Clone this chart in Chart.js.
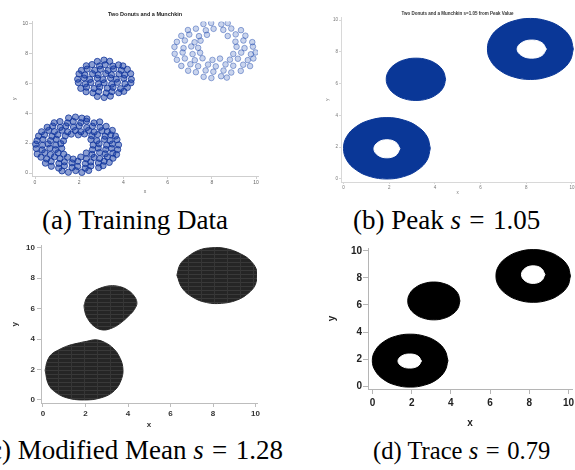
<!DOCTYPE html>
<html>
<head>
<meta charset="utf-8">
<script src="https://cdn.jsdelivr.net/npm/chart.js@4.4.1/dist/chart.umd.min.js"></script>
<style>
  html, body { margin: 0; padding: 0; background: #fff; width: 575px; height: 470px; overflow: hidden; position: relative; }
  canvas { position: absolute; display: block; }
  .cap { position: absolute; font-family: "Liberation Serif", "Times New Roman", serif; color: #000; white-space: nowrap; line-height: 1; }
  .cap .eq { margin: 0 0.06em; }
</style>
</head>
<body>
<canvas id="pa" width="257" height="194" style="left:7px;top:6px"></canvas>
<canvas id="pb" width="260" height="193" style="left:322px;top:7px"></canvas>
<canvas id="pc" width="255" height="195" style="left:7px;top:239px"></canvas>
<canvas id="pd" width="260" height="194" style="left:321px;top:240px"></canvas>

<div class="cap" style="left:42px;top:207px;font-size:27px">(a) Training Data</div>
<div class="cap" style="left:353px;top:207px;font-size:27px">(b) Peak <i>s</i><span class="eq"> = </span>1.05</div>
<div class="cap" style="left:-19px;top:437px;font-size:27px">(c) Modified Mean <i>s</i><span class="eq"> = </span>1.28</div>
<div class="cap" style="left:373px;top:439px;font-size:24.6px">(d) Trace <i>s</i><span class="eq"> = </span>0.79</div>

<script>
// ---- tick values shared by every axis ----
const axisTicks = [0, 2, 4, 6, 8, 10];

// ---- (a) training samples ----
const lowerDonutPts = [
  [1.22,0.14],[1.51,0.05],[1.84,0.16],[2.12,0.04],[2.43,0.17],
  [0.74,0.45],[1.07,0.33],[1.33,0.48],[1.68,0.37],[1.93,0.44],[2.27,0.32],[2.53,0.47],[2.88,0.36],[3.08,0.49],
  [0.47,0.66],[0.73,0.78],[1.08,0.64],[1.33,0.75],[1.67,0.68],[1.94,0.79],[2.28,0.63],[2.52,0.74],[2.87,0.67],[3.13,0.79],[3.36,0.71],
  [0.27,1.06],[0.53,0.94],[0.88,1.08],[1.13,0.96],[1.47,1.05],[1.73,0.93],[2.07,1.07],[2.33,0.95],[2.67,1.04],[2.93,0.97],[3.27,1.08],[3.53,0.99],
  [0.10,1.27],[0.44,1.36],[0.70,1.24],[1.04,1.35],[1.30,1.26],[2.32,1.34],[2.58,1.25],[2.92,1.37],[3.18,1.28],[3.52,1.33],[3.69,1.24],
  [0.06,1.64],[0.33,1.55],[0.67,1.66],[0.93,1.57],[1.21,1.65],[2.60,1.56],[2.86,1.67],[3.20,1.58],[3.46,1.65],[3.74,1.57],
  [0.03,1.93],[0.34,1.86],[0.60,1.95],[0.94,1.87],[1.17,1.96],[2.63,1.87],[2.90,1.95],[3.24,1.86],[3.50,1.94],[3.78,1.88],
  [0.09,2.16],[0.36,2.25],[0.70,2.17],[0.96,2.26],[1.29,2.15],[2.53,2.24],[2.80,2.16],[3.14,2.25],[3.40,2.17],[3.71,2.23],
  [0.16,2.47],[0.43,2.55],[0.77,2.46],[1.03,2.56],[1.37,2.48],[1.64,2.60],[1.96,2.55],[2.24,2.61],[2.57,2.49],[2.83,2.57],[3.17,2.46],[3.43,2.55],[3.64,2.47],
  [0.30,2.76],[0.62,2.85],[0.88,2.77],[1.22,2.86],[1.48,2.75],[1.82,2.84],[2.08,2.76],[2.42,2.85],[2.68,2.74],[3.02,2.83],[3.28,2.77],[3.50,2.85],
  [0.55,3.06],[0.80,3.14],[1.14,3.05],[1.40,3.15],[1.74,3.07],[2.00,3.16],[2.34,3.04],[2.60,3.13],[2.94,3.06],[3.22,3.12],
  [0.87,3.36],[1.13,3.44],[1.47,3.35],[1.73,3.45],[2.07,3.37],[2.33,3.46],[2.67,3.35],[2.93,3.42],
  [1.52,3.68],[1.83,3.74],[2.12,3.67],[2.35,3.62]
];
const munchkinPts = [
  [2.82,5.12],[3.13,5.05],[3.41,5.14],
  [2.31,5.43],[2.62,5.36],[2.88,5.45],[3.22,5.35],[3.48,5.44],[3.79,5.37],[4.02,5.46],
  [2.07,5.66],[2.33,5.74],[2.67,5.65],[2.93,5.75],[3.27,5.67],[3.53,5.73],[3.87,5.64],[4.18,5.72],
  [1.96,6.04],[2.27,5.95],[2.53,6.05],[2.87,5.96],[3.13,6.03],[3.47,5.94],[3.73,6.06],[4.07,5.97],[4.34,6.03],
  [1.93,6.27],[2.22,6.35],[2.48,6.26],[2.82,6.34],[3.08,6.25],[3.42,6.36],[3.68,6.28],[4.02,6.33],[4.36,6.26],
  [1.99,6.63],[2.26,6.55],[2.60,6.64],[2.86,6.56],[3.20,6.65],[3.46,6.57],[3.80,6.62],[4.06,6.55],[4.33,6.64],
  [2.10,6.86],[2.36,6.95],[2.70,6.87],[2.96,6.94],[3.30,6.85],[3.56,6.96],[3.90,6.87],[4.18,6.93],
  [2.32,7.17],[2.58,7.25],[2.92,7.16],[3.18,7.24],[3.52,7.15],[3.78,7.23],[3.98,7.16],
  [2.82,7.46],[3.12,7.55],[3.38,7.47]
];
const upperDonutPts = [
  [7.63,6.43],[7.98,6.35],[8.42,6.47],[8.68,6.38],
  [6.93,6.84],[7.28,6.74],[7.72,6.86],[8.07,6.77],[8.53,6.85],[8.88,6.72],[9.31,6.83],
  [6.62,7.16],[7.03,7.27],[7.38,7.14],[7.83,7.25],[8.18,7.13],[8.62,7.26],[8.97,7.17],[9.42,7.24],[9.73,7.15],
  [6.42,7.57],[6.78,7.66],[7.23,7.54],[7.58,7.67],[8.03,7.56],[8.37,7.65],[8.82,7.58],[9.18,7.64],[9.63,7.55],[9.88,7.66],
  [6.32,7.97],[6.68,8.06],[7.13,7.95],[7.47,8.04],[8.97,7.96],[9.33,8.05],[9.77,7.94],[9.98,8.06],
  [6.31,8.43],[6.72,8.35],[7.07,8.46],[7.38,8.37],[9.12,8.44],[9.48,8.35],[9.86,8.45],
  [6.42,8.77],[6.78,8.86],[7.22,8.74],[7.49,8.85],[9.07,8.78],[9.43,8.86],[9.83,8.75],
  [6.62,9.17],[6.98,9.26],[7.42,9.15],[7.78,9.24],[8.72,9.16],[9.08,9.27],[9.52,9.18],
  [6.92,9.56],[7.28,9.65],[7.73,9.54],[8.08,9.64],[8.52,9.57],[8.88,9.66],[9.32,9.55],
  [7.62,9.96],[7.97,10.03],[8.43,9.94],[8.72,10.02]
];

// ---- (b) peak-value regions: outlines of each region ----
const peakLowerOuter = [[3.80,1.93],[3.66,2.67],[3.24,3.30],[2.63,3.71],[1.90,3.86],[1.17,3.71],[0.56,3.30],[0.14,2.67],[0.00,1.93],[0.14,1.19],[0.56,0.56],[1.17,0.15],[1.90,0.00],[2.63,0.15],[3.24,0.56],[3.66,1.19],[3.80,1.93]];
const peakLowerHole  = [[2.47,1.90],[2.30,2.30],[1.90,2.47],[1.50,2.30],[1.33,1.90],[1.50,1.50],[1.90,1.33],[2.30,1.50],[2.47,1.90]];
const peakMunchkin   = [[4.47,6.27],[4.37,6.78],[4.09,7.21],[3.67,7.50],[3.17,7.60],[2.67,7.50],[2.25,7.21],[1.97,6.78],[1.87,6.27],[1.97,5.76],[2.25,5.33],[2.67,5.04],[3.17,4.94],[3.67,5.04],[4.09,5.33],[4.37,5.76],[4.47,6.27]];
const peakUpperOuter = [[10.06,8.18],[9.92,8.92],[9.51,9.54],[8.90,9.95],[8.18,10.10],[7.46,9.95],[6.85,9.54],[6.44,8.92],[6.30,8.18],[6.44,7.44],[6.85,6.82],[7.46,6.41],[8.18,6.26],[8.90,6.41],[9.51,6.82],[9.92,7.44],[10.06,8.18]];
const peakUpperHole  = [[8.88,8.17],[8.69,8.57],[8.24,8.74],[7.79,8.57],[7.60,8.17],[7.79,7.77],[8.24,7.60],[8.69,7.77],[8.88,8.17]];

// ---- (c) modified-mean regions ----
const meanLower    = [[0.10,1.95],[0.20,2.55],[0.40,3.00],[0.75,3.30],[1.15,3.55],[1.60,3.72],[2.05,3.85],[2.50,3.95],[2.95,3.75],[3.30,3.40],[3.55,2.95],[3.75,2.20],[3.70,1.40],[3.35,0.60],[2.75,0.15],[1.90,0.00],[1.10,0.15],[0.55,0.55],[0.25,1.05],[0.10,1.95]];
const meanMunchkin = [[1.93,6.20],[2.05,6.70],[2.30,7.06],[2.70,7.35],[3.15,7.50],[3.60,7.45],[3.95,7.25],[4.25,6.90],[4.42,6.40],[4.30,5.95],[4.05,5.55],[3.60,5.00],[3.20,4.70],[2.80,4.60],[2.40,4.85],[2.10,5.35],[1.97,5.80],[1.93,6.20]];
const meanUpper    = [[6.30,8.20],[6.45,8.90],[6.80,9.40],[7.35,9.85],[7.95,10.00],[8.60,9.95],[9.30,9.60],[9.80,9.10],[10.07,8.40],[10.00,7.60],[9.65,7.00],[9.10,6.55],[8.40,6.35],[7.70,6.40],[7.05,6.75],[6.55,7.35],[6.30,8.20]];

// ---- (d) trace regions ----
const traceLowerOuter = [[3.85,1.88],[3.70,2.63],[3.29,3.27],[2.66,3.69],[1.92,3.84],[1.18,3.69],[0.56,3.27],[0.14,2.63],[-0.01,1.88],[0.14,1.13],[0.56,0.49],[1.18,0.07],[1.92,-0.08],[2.66,0.07],[3.29,0.49],[3.70,1.13],[3.85,1.88]];
const traceLowerHole  = [[2.50,1.85],[2.32,2.22],[1.90,2.37],[1.48,2.22],[1.30,1.85],[1.48,1.48],[1.90,1.33],[2.32,1.48],[2.50,1.85]];
const traceMunchkin   = [[4.46,6.30],[4.36,6.84],[4.07,7.29],[3.64,7.59],[3.13,7.70],[2.62,7.59],[2.19,7.29],[1.90,6.84],[1.80,6.30],[1.90,5.76],[2.19,5.31],[2.62,5.01],[3.13,4.90],[3.64,5.01],[4.07,5.31],[4.36,5.76],[4.46,6.30]];
const traceUpperOuter = [[10.10,8.15],[9.96,8.90],[9.54,9.53],[8.93,9.95],[8.20,10.10],[7.47,9.95],[6.86,9.53],[6.44,8.90],[6.30,8.15],[6.44,7.40],[6.86,6.77],[7.47,6.35],[8.20,6.20],[8.93,6.35],[9.54,6.77],[9.96,7.40],[10.10,8.15]];
const traceUpperHole  = [[8.80,8.25],[8.62,8.71],[8.20,8.90],[7.78,8.71],[7.60,8.25],[7.78,7.79],[8.20,7.60],[8.62,7.79],[8.80,8.25]];

// ---------------------------------------------------------------
const xy = arr => arr.map(([x, y]) => ({ x, y }));

Chart.defaults.font.family = 'Arial, "Liberation Sans", sans-serif';

// outer panel border + plot wall outline
const framePlugin = {
  id: 'frame',
  beforeDraw(chart, args, opts) {
    const { ctx, width, height, chartArea: a } = chart;
    ctx.save();
    ctx.fillStyle = '#fff';
    ctx.fillRect(0, 0, width, height);
    ctx.lineWidth = 1;
    ctx.strokeStyle = opts.outer;
    ctx.strokeRect(0.5, 0.5, width - 1, height - 1);
    ctx.strokeStyle = opts.wall;
    ctx.strokeRect(Math.round(a.left) + 0.5, Math.round(a.top) + 0.5,
                   Math.round(a.right - a.left) - 1, Math.round(a.bottom - a.top) - 1);
    ctx.restore();
  }
};

function axis(o) {
  return {
    type: 'linear',
    min: o.min, max: o.max,
    afterBuildTicks: s => { s.ticks = axisTicks.map(v => ({ value: v })); },
    afterFit: s => { if (s.isHorizontal()) s.height = o.size; else s.width = o.size; },
    grid: { display: true, drawOnChartArea: false, drawTicks: true, tickLength: o.tickLen, tickWidth: 1, tickColor: o.line },
    border: { display: true, color: o.line, width: 1 },
    ticks: { font: o.font, color: o.color, padding: o.pad, maxRotation: 0, autoSkip: false },
    title: { display: true, text: o.title, font: o.titleFont, color: o.color, padding: o.titlePad }
  };
}

function baseOptions(p) {
  return {
    responsive: false, animation: false, devicePixelRatio: 1,
    layout: { padding: p.padding },
    plugins: {
      legend: { display: false }, tooltip: { enabled: false },
      title: p.title || { display: false },
      frame: p.frame
    },
    scales: { x: p.x, y: p.y },
    elements: { point: { radius: 0 } }
  };
}

function region(data, color, order) {
  return { data: xy(data), showLine: true, fill: 'shape', tension: 0.4,
           backgroundColor: color, borderColor: color, borderWidth: 1,
           pointRadius: 0, order };
}

// (a) Training data
const densePts = { pointRadius: 3.1, pointBorderWidth: 0.9,
                   pointBackgroundColor: 'rgba(24,62,165,0.5)', pointBorderColor: 'rgba(16,52,155,0.88)' };
const sparsePts = { pointRadius: 2.8, pointBorderWidth: 0.8,
                    pointBackgroundColor: 'rgba(60,100,190,0.28)', pointBorderColor: 'rgba(40,80,175,0.6)' };
new Chart(document.getElementById('pa'), {
  type: 'scatter',
  data: { datasets: [
    Object.assign({ data: xy(lowerDonutPts) }, densePts),
    Object.assign({ data: xy(munchkinPts) }, densePts),
    Object.assign({ data: xy(upperDonutPts) }, sparsePts)
  ] },
  options: baseOptions({
    padding: { left: 0, right: 6, top: 2, bottom: 0 },
    title: { display: true, fullSize: false, text: 'Two Donuts and a Munchkin', color: '#222',
             font: { size: 5.5, weight: 'bold', lineHeight: 1 }, padding: { top: 4, bottom: 4 } },
    frame: { outer: '#dcdcdc', wall: '#d2d2d2' },
    x: axis({ min: -0.136, max: 10.09, size: 24, tickLen: 3, pad: 1, line: '#cfcfcf', color: '#666',
              font: { size: 5 }, title: 'x', titleFont: { size: 5 }, titlePad: { top: 0, bottom: 5 } }),
    y: axis({ min: -0.2, max: 10.13, size: 25, tickLen: 3, pad: 1, line: '#cfcfcf', color: '#666',
              font: { size: 5 }, title: 'y', titleFont: { size: 5 }, titlePad: { top: 5, bottom: 0 } })
  })
});

// (b) Peak value
const peakBlue = '#0a3797';
new Chart(document.getElementById('pb'), {
  type: 'scatter',
  data: { datasets: [
    region(peakLowerHole, '#ffffff', 0),
    region(peakUpperHole, '#ffffff', 0),
    region(peakLowerOuter, peakBlue, 1),
    region(peakMunchkin, peakBlue, 1),
    region(peakUpperOuter, peakBlue, 1)
  ] },
  options: baseOptions({
    padding: { left: 0, right: 8, top: 0, bottom: 0 },
    title: { display: true, fullSize: false, text: 'Two Donuts and a Munchkin s=1.05 from Peak Value', color: '#333',
             font: { size: 4.5, lineHeight: 1 }, padding: { top: 4.75, bottom: 0.75 } },
    frame: { outer: '#e4e4e4', wall: '#dedede' },
    x: axis({ min: -0.11, max: 10.09, size: 18, tickLen: 2, pad: 1, line: '#d8d8d8', color: '#777',
              font: { size: 4.5 }, title: 'x', titleFont: { size: 4.5 }, titlePad: { top: 0, bottom: 4.3 } }),
    y: axis({ min: -0.19, max: 10.19, size: 19, tickLen: 2, pad: 1, line: '#d8d8d8', color: '#777',
              font: { size: 4.5 }, title: 'y', titleFont: { size: 4.5 }, titlePad: { top: 3.3, bottom: 0 } })
  })
});

// (c) Modified mean: dark cells with faint grid texture
const pcCanvas = document.getElementById('pc');
function cellTexture(ctx) {
  const t = document.createElement('canvas');
  t.width = 13; t.height = 4;
  const g = t.getContext('2d');
  g.fillStyle = '#252525'; g.fillRect(0, 0, 13, 4);
  g.fillStyle = '#393939'; g.fillRect(0, 3, 13, 1);
  g.fillStyle = '#363636'; g.fillRect(12, 0, 1, 4);
  return ctx.createPattern(t, 'repeat');
}
const cellFill = cellTexture(pcCanvas.getContext('2d'));
new Chart(pcCanvas, {
  type: 'scatter',
  data: { datasets: [
    region(meanLower, cellFill, 1),
    region(meanMunchkin, cellFill, 1),
    region(meanUpper, cellFill, 1)
  ] },
  options: baseOptions({
    padding: { left: 0, right: 5, top: 6, bottom: 0 },
    frame: { outer: '#c8c8c8', wall: '#c4c4c4' },
    x: axis({ min: -0.094, max: 10.07, size: 31, tickLen: 4, pad: 2, line: '#bdbdbd', color: '#333',
              font: { size: 8, weight: 'bold' }, title: 'x', titleFont: { size: 8, weight: 'bold' }, titlePad: { top: 0, bottom: 4.2 } }),
    y: axis({ min: -0.2, max: 10.13, size: 34, tickLen: 4, pad: 2, line: '#bdbdbd', color: '#333',
              font: { size: 8, weight: 'bold' }, title: 'y', titleFont: { size: 8, weight: 'bold' }, titlePad: { top: 3.2, bottom: 0 } })
  })
});

// (d) Trace
new Chart(document.getElementById('pd'), {
  type: 'scatter',
  data: { datasets: [
    region(traceLowerHole, '#ffffff', 0),
    region(traceUpperHole, '#ffffff', 0),
    region(traceLowerOuter, '#000000', 1),
    region(traceMunchkin, '#000000', 1),
    region(traceUpperOuter, '#000000', 1)
  ] },
  options: baseOptions({
    padding: { left: 0, right: 9, top: 8, bottom: 0 },
    frame: { outer: '#bdbdbd', wall: '#bcbcbc' },
    x: axis({ min: -0.23, max: 10.18, size: 45, tickLen: 5, pad: 3, line: '#b5b5b5', color: '#222',
              font: { size: 10, weight: 'bold' }, title: 'x', titleFont: { size: 10, weight: 'bold' }, titlePad: { top: 0, bottom: 5 } }),
    y: axis({ min: -0.22, max: 10.22, size: 47, tickLen: 5, pad: 1, line: '#b5b5b5', color: '#222',
              font: { size: 10, weight: 'bold' }, title: 'y', titleFont: { size: 10, weight: 'bold' }, titlePad: { top: 5, bottom: 0 } })
  })
});
</script>
</body>
</html>
